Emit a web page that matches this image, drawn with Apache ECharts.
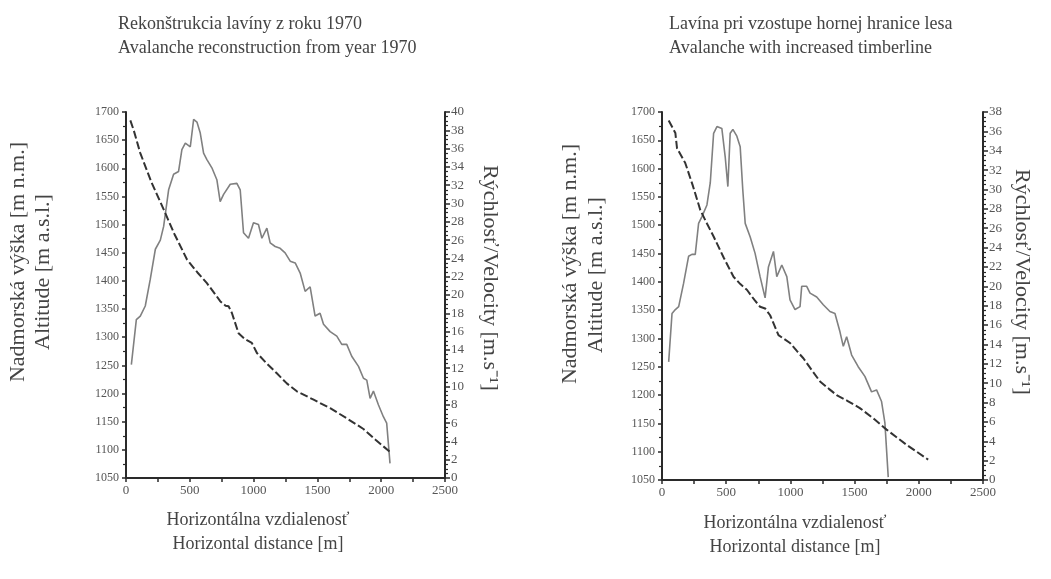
<!DOCTYPE html>
<html>
<head>
<meta charset="utf-8">
<script src="https://cdn.jsdelivr.net/npm/echarts@6/dist/echarts.min.js"></script>
<style>
html,body{margin:0;padding:0;background:#fff;}
#chart{width:1051px;height:579px;}
</style>
</head>
<body>
<div id="chart"></div>
<script>
// ---- Data ----
var distanceTicks = [0, 500, 1000, 1500, 2000, 2500];

// Left chart: avalanche reconstruction 1970 — [horizontal distance m, value]
var altitude1970 = [
  [34,1685],[60,1668],[112,1627],[200,1575],[295,1527],[380,1483],[478,1438],[560,1415],
  [634,1396],[700,1376],[738,1364],[780,1356],[804,1355],[830,1343],[882,1307],[930,1297],
  [986,1290],[1026,1272],[1100,1254],[1182,1236],[1260,1218],[1339,1204],[1470,1189],
  [1600,1174],[1730,1156],[1861,1137],[1960,1117],[2065,1097]
];
var velocity1970 = [
  [42,12.4],[81,17.3],[112,17.7],[151,18.8],[190,21.7],[230,25.0],[269,26.0],[295,27.5],
  [334,31.5],[373,33.2],[412,33.5],[438,35.9],[465,36.6],[504,36.2],[530,39.2],[556,38.9],
  [582,37.7],[608,35.5],[634,34.8],[673,33.9],[712,32.6],[738,30.2],[765,31.0],[817,32.1],
  [869,32.2],[895,31.5],[921,26.8],[960,26.2],[999,27.9],[1038,27.7],[1065,26.2],[1104,27.3],
  [1130,25.7],[1169,25.3],[1208,25.1],[1247,24.6],[1287,23.7],[1326,23.5],[1365,22.4],
  [1404,20.4],[1443,20.9],[1482,17.7],[1521,18.0],[1548,16.8],[1600,16.0],[1652,15.5],
  [1691,14.6],[1730,14.6],[1769,13.3],[1822,12.2],[1861,10.9],[1887,10.7],[1913,8.7],
  [1939,9.5],[1978,8.0],[2017,6.7],[2043,6.0],[2069,1.6]
];

// Right chart: avalanche with increased timberline
var altitudeTimber = [
  [52,1685],[104,1663],[117,1636],[181,1610],[240,1570],[298,1527],[350,1503],[402,1480],
  [480,1443],[557,1409],[610,1396],[661,1386],[720,1368],[764,1356],[803,1353],[842,1341],
  [907,1306],[997,1292],[1050,1278],[1101,1265],[1170,1243],[1231,1224],[1300,1211],
  [1360,1200],[1450,1189],[1541,1177],[1650,1158],[1749,1139],[1900,1113],[2073,1086]
];
var velocityTimber = [
  [52,12.2],[78,17.2],[104,17.6],[130,17.9],[168,20.3],[207,23.1],[233,23.3],[259,23.3],
  [285,26.5],[311,27.2],[350,28.4],[376,30.7],[402,35.8],[428,36.5],[466,36.3],[492,33.4],
  [513,30.3],[531,35.8],[552,36.2],[583,35.5],[609,34.4],[629,30.0],[648,26.5],[687,25.1],
  [725,23.4],[764,21.0],[803,18.8],[829,22.0],[868,23.6],[894,21.0],[933,22.2],[972,21.0],
  [997,18.6],[1036,17.6],[1075,17.9],[1088,20.0],[1127,20.0],[1153,19.3],[1205,18.9],
  [1256,18.1],[1308,17.4],[1347,17.2],[1386,15.3],[1412,13.8],[1438,14.8],[1477,12.9],
  [1528,11.7],[1580,10.7],[1632,9.1],[1671,9.3],[1710,8.1],[1736,5.9],[1762,0.3]
];

var titles = [
  'Rekonštrukcia lavíny z roku 1970\nAvalanche reconstruction from year 1970',
  'Lavína pri vzostupe hornej hranice lesa\nAvalanche with increased timberline'
];
var altitudeNameSk = 'Nadmorská výška [m n.m.]';
var altitudeNameEn = 'Altitude [m a.s.l.]';
var velocityName = 'Rýchlosť/Velocity [m.s⁻¹]';
var distanceName = 'Horizontálna vzdialenosť\nHorizontal distance [m]';

// ---- Styles ----
var FONT = 'Liberation Serif';
var TXT = '#444';
var AXC = '#2a2a2a';
function plain(v){ return String(v); }

function xAx(gi){
  return {
    type:'value', gridIndex:gi, min:0, max:2500, interval:500,
    axisLine:{show:true, onZero:false, lineStyle:{color:AXC, width:2}},
    axisTick:{show:true, length:4, lineStyle:{color:AXC, width:1.5}},
    minorTick:{show:true, splitNumber:2, length:4, lineStyle:{color:AXC, width:1.5}},
    splitLine:{show:false},
    axisLabel:{fontFamily:FONT, fontSize:13, color:'#555', margin:6, formatter:plain}
  };
}
function altAx(gi){
  return {
    type:'value', gridIndex:gi, position:'left', min:1050, max:1700, interval:50,
    axisLine:{show:true, onZero:false, lineStyle:{color:AXC, width:2}},
    axisTick:{show:true, length:4, lineStyle:{color:AXC, width:1.5}},
    minorTick:{show:true, splitNumber:2, length:3, lineStyle:{color:AXC, width:1.2}},
    splitLine:{show:false},
    axisLabel:{fontFamily:FONT, fontSize:12, color:'#555', margin:7, formatter:plain}
  };
}
function velAx(gi, max){
  return {
    type:'value', gridIndex:gi, position:'right', min:0, max:max, interval:2,
    axisLine:{show:true, onZero:false, lineStyle:{color:AXC, width:2}},
    axisTick:{show:true, length:5, lineStyle:{color:AXC, width:1.5}},
    minorTick:{show:true, splitNumber:4, length:3, lineStyle:{color:AXC, width:1.2}},
    splitLine:{show:false},
    axisLabel:{fontFamily:FONT, fontSize:13, color:'#555', margin:6, formatter:plain}
  };
}
function altSeries(data, xi, yi){
  return {type:'line', xAxisIndex:xi, yAxisIndex:yi, data:data, showSymbol:false, symbol:'none',
    lineStyle:{color:'#333', width:2, type:[8,3]}, silent:true, z:3};
}
function velSeries(data, xi, yi){
  return {type:'line', xAxisIndex:xi, yAxisIndex:yi, data:data, showSymbol:false, symbol:'none',
    lineStyle:{color:'#808080', width:1.6}, silent:true, z:2};
}
function txt(x, y, text, opts){
  return {type:'text', x:x, y:y, rotation:opts.rotation||0, silent:true,
    style:{text:text, fontFamily:FONT, fontSize:opts.size||18, fill:TXT,
      textAlign:opts.align||'left', textVerticalAlign:opts.valign||'top',
      lineHeight:opts.lh||24}};
}

var chart = echarts.init(document.getElementById('chart'), null, {renderer:'canvas'});
chart.setOption({
  animation:false,
  backgroundColor:'#fff',
  grid:[
    {left:126, right:606, top:112, bottom:101},
    {left:662, right:68, top:112, bottom:99}
  ],
  xAxis:[xAx(0), xAx(1)],
  yAxis:[altAx(0), velAx(0,40), altAx(1), velAx(1,38)],
  series:[
    velSeries(velocity1970, 0, 1),
    altSeries(altitude1970, 0, 0),
    velSeries(velocityTimber, 1, 3),
    altSeries(altitudeTimber, 1, 2)
  ],
  graphic:[
    txt(118, 12, titles[0], {}),
    txt(669, 12, titles[1], {}),
    txt(18, 262, altitudeNameSk, {rotation:Math.PI/2, valign:'middle', align:'center', size:22}),
    txt(43, 272, altitudeNameEn, {rotation:Math.PI/2, valign:'middle', align:'center', size:22}),
    txt(570, 264, altitudeNameSk, {rotation:Math.PI/2, valign:'middle', align:'center', size:22}),
    txt(596, 275, altitudeNameEn, {rotation:Math.PI/2, valign:'middle', align:'center', size:22}),
    txt(490, 278, velocityName, {rotation:-Math.PI/2, valign:'middle', align:'center', size:22}),
    txt(1022, 282, velocityName, {rotation:-Math.PI/2, valign:'middle', align:'center', size:22}),
    txt(258, 508, distanceName, {align:'center'}),
    txt(795, 511, distanceName, {align:'center'})
  ]
});
</script>
</body>
</html>
